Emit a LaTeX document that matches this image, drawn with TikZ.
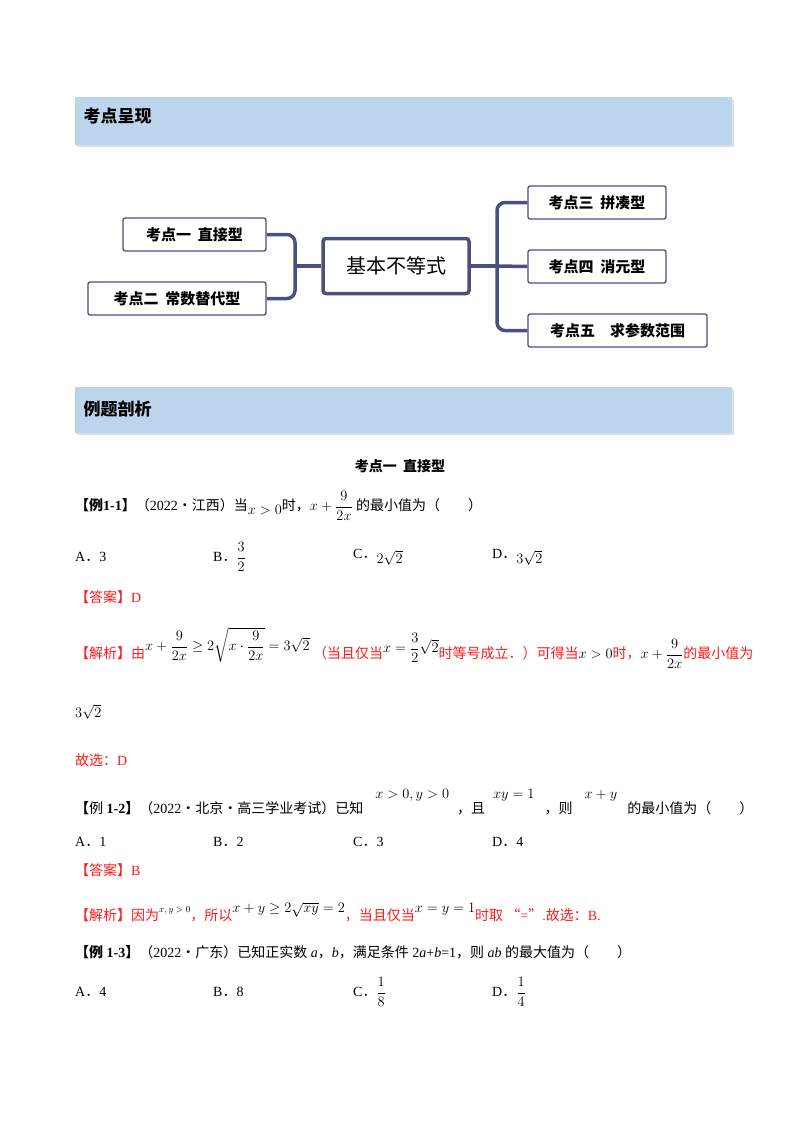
\documentclass[tikz,border=0pt]{standalone}
\usepackage{fontspec}
\usepackage{amsmath}
\setmainfont{Liberation Serif}
\newfontfamily\cjk{Noto Sans CJK SC}
\newcommand\dd{{\cjk ．}}
\usetikzlibrary{shadows}
\definecolor{hdr}{HTML}{BDD5EC}
\definecolor{mm}{HTML}{4B4F7E}
\definecolor{rd}{HTML}{FF1A1A}
\tikzset{
 hbar/.style={fill=hdr,draw=none,drop shadow={shadow xshift=2pt,shadow yshift=-2pt,opacity=0.25}},
 htxt/.style={anchor=west,font=\fontsize{17}{20}\selectfont\cjk\bfseries},
 leaf/.style={draw=mm,line width=1.3pt,rounded corners=2pt,fill=white,font=\fontsize{15}{18}\selectfont\cjk\bfseries,inner sep=0pt},
 link/.style={draw=mm,line width=3.5pt,rounded corners=8pt},
 ln/.style={anchor=west,inner sep=0pt,font=\fontsize{14}{17}\selectfont},
 red/.style={text=rd}
}
\begin{document}
\begin{tikzpicture}[x=1pt,y=-1pt]
\useasboundingbox (0,0) rectangle (800,1132);
\fill[white] (0,0) rectangle (800,1132);
% headers
\path[hbar] (75,97) rectangle (732,145);
\node[htxt] (h1) at (80,116) {考点呈现};
\path[hbar] (75,387) rectangle (732,433);
\node[htxt] (h2) at (80,409) {例题剖析};
% mind map
\node[draw=mm,line width=3.5pt,rounded corners=3pt,minimum width=146pt,minimum height=55pt,font=\fontsize{20}{24}\selectfont\cjk] (c) at (396,266) {基本不等式};
\node[leaf,minimum width=143pt,minimum height=33pt] (k1) at (194.5,234.5) {考点一\ \ 直接型};
\node[leaf,minimum width=178pt,minimum height=33pt] (k2) at (177,298.5) {考点二\ \ 常数替代型};
\node[leaf,minimum width=138pt,minimum height=33pt] (k3) at (597,202.5) {考点三\ \ 拼凑型};
\node[leaf,minimum width=138pt,minimum height=33pt] (k4) at (597,266.5) {考点四\ \ 消元型};
\node[leaf,minimum width=179pt,minimum height=33pt] (k5) at (617.5,330.5) {考点五\quad 求参数范围};
\coordinate (lj) at (295,266);
\coordinate (rj) at (497,266);
\draw[link] (c.west) -- (lj);
\draw[link] (k1.east) -| (lj);
\draw[link] (k2.east) -| (lj);
\draw[link] (c.east) -- (rj);
\draw[link] (k3.west) -| (rj);
\draw[link] (k5.west) -| (rj);
\draw[link] (k4.west) -- (rj);
% section title
\node[font=\fontsize{14}{17}\selectfont\cjk\bfseries] (t1) at (400,466) {考点一\ \ 直接型};
% Example 1-1
\node[ln] (e1) at (75,506) {{\cjk\bfseries 【例}\textbf{1-1}{\cjk\bfseries 】}{\cjk（}2022{\cjk·江西）当}\raisebox{-4pt}{$x>0$}{\cjk 时，}$x+\dfrac{9}{2x}$ {\cjk 的最小值为（\qquad ）}};
\node[ln] (o1a) at (75,557) {A\dd 3};
\node[ln] (o1b) at (213,557) {B\dd $\dfrac{3}{2}$};
\node[ln] (o1c) at (353,557) {C\dd \raisebox{-5pt}{$2\sqrt{2}$}};
\node[ln] (o1d) at (492,557) {D\dd \raisebox{-5pt}{$3\sqrt{2}$}};
\node[ln,red] (a1) at (75,597) {{\cjk 【答案】}D};
\node[ln,red] (j1) at (75,648) {{\cjk 【解析】由}\raisebox{8pt}{\color{black}$x+\dfrac{9}{2x}\geq 2\sqrt{x\cdot\dfrac{9}{2x}}=3\sqrt{2}$}\ {\cjk（当且仅当}\raisebox{6pt}{\color{black}$x=\dfrac{3}{2}\sqrt{2}$}{\cjk 时等号成立}\dd{\cjk ）可得当}{\color{black}$x>0$}{\cjk 时，}{\color{black}$x+\dfrac{9}{2x}$}{\cjk 的最小值为}};
\node[ln] (j1b) at (75,712) {$3\sqrt{2}$};
\node[ln,red] (g1) at (75,760) {{\cjk 故选：}D};
% Example 1-2
\node[ln] (e2) at (75,802) {{\cjk\bfseries 【}{\cjk 例}\textbf{ 1-2}{\cjk\bfseries 】}{\cjk（}2022{\cjk·北京·高三学业考试）已知}\hspace{12pt}\raisebox{15pt}{$x>0,y>0$}\hspace{8pt}{\cjk ，且}\hspace{8pt}\raisebox{15pt}{$xy=1$}\hspace{10pt}{\cjk ，则}\hspace{12pt}\raisebox{15pt}{$x+y$}\hspace{10pt}{\cjk 的最小值为（\qquad ）}};
\node[ln] (o2a) at (75,842) {A\dd 1};
\node[ln] (o2b) at (213,842) {B\dd 2};
\node[ln] (o2c) at (353,842) {C\dd 3};
\node[ln] (o2d) at (492,842) {D\dd 4};
\node[ln,red] (a2) at (75,870) {{\cjk 【答案】}B};
\node[ln,red] (j2) at (75,912) {{\cjk 【解析】因为}\raisebox{8pt}{\color{black}\small$x,y>0$}{\cjk ，所以}\raisebox{8pt}{\color{black}$x+y\geq 2\sqrt{xy}=2$}{\cjk ，当且仅当}\raisebox{8pt}{\color{black}$x=y=1$}{\cjk 时取 “}={\cjk ”}.{\cjk 故选：}B.};
% Example 1-3
\node[ln] (e3) at (75,952) {{\cjk\bfseries 【例}\textbf{ 1-3}{\cjk\bfseries 】}{\cjk（}2022{\cjk·广东）已知正实数} \textit{a}{\cjk ，}\textit{b}{\cjk ，满足条件} 2\textit{a}+\textit{b}=1{\cjk ，则} \textit{ab} {\cjk 的最大值为（\qquad ）}};
\node[ln] (o3a) at (75,992) {A\dd 4};
\node[ln] (o3b) at (213,992) {B\dd 8};
\node[ln] (o3c) at (353,992) {C\dd $\dfrac{1}{8}$};
\node[ln] (o3d) at (492,992) {D\dd $\dfrac{1}{4}$};
\end{tikzpicture}
\end{document}
